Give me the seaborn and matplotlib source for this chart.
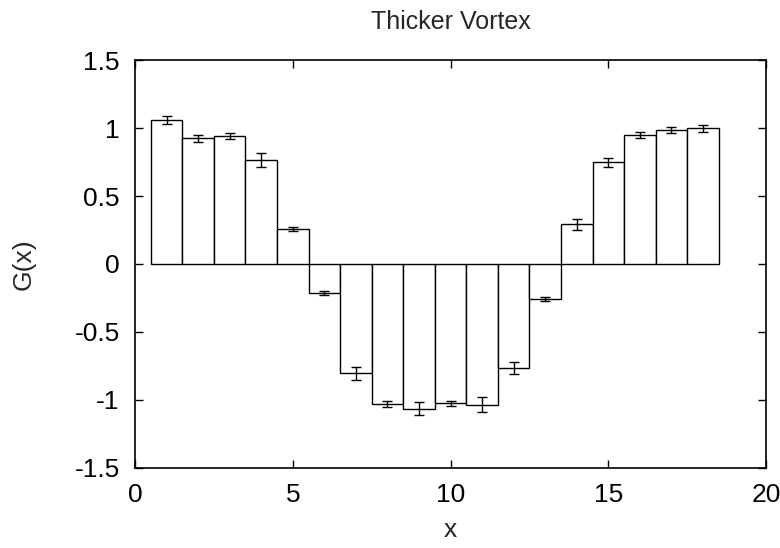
import matplotlib
matplotlib.use("Agg")
import matplotlib.pyplot as plt
import numpy as np
import pandas as pd
import seaborn as sns

# bin centres, correlator values and their errors
x_pos = [1, 2, 3, 4, 5, 6, 7, 8, 9, 10, 11, 12, 13, 14, 15, 16, 17, 18]
g_vals = [1.057, 0.924, 0.941, 0.765, 0.255, -0.215, -0.804, -1.029, -1.064,
          -1.025, -1.035, -0.767, -0.255, 0.292, 0.748, 0.949, 0.985, 0.998]
g_errs = [0.030, 0.027, 0.025, 0.050, 0.015, 0.015, 0.050, 0.020, 0.050,
          0.020, 0.055, 0.045, 0.015, 0.040, 0.035, 0.025, 0.025, 0.025]

df = pd.DataFrame({"x": x_pos, "G": g_vals, "err": g_errs})

sns.set_theme(style="ticks")
plt.rcParams["font.family"] = ["Liberation Sans", "DejaVu Sans"]

fig = plt.figure(figsize=(7.8, 5.48), dpi=100)
ax = fig.add_axes([0.1731, 0.146, 0.9821 - 0.1731, 0.8905 - 0.146])

sns.barplot(data=df, x="x", y="G", native_scale=True, width=1.0,
            color="white", edgecolor="black", linewidth=1.0,
            errorbar=None, ax=ax)
ax.errorbar(df["x"], df["G"], yerr=df["err"], fmt="none",
            ecolor="black", elinewidth=1.0, capsize=3.5, capthick=1.0)

ax.set_xlim(0, 20)
ax.set_ylim(-1.5, 1.5)
ax.set_xticks([0, 5, 10, 15, 20])
ax.set_xticklabels(["0", "5", "10", "15", "20"])
ax.set_yticks([-1.5, -1, -0.5, 0, 0.5, 1, 1.5])
ax.set_yticklabels(["-1.5", "-1", "-0.5", "0", "0.5", "1", "1.5"])

ax.tick_params(direction="in", length=5.5, width=1.0, top=True, right=True,
               labelsize=19, colors="black")
ax.tick_params(axis="x", pad=11)
ax.tick_params(axis="y", pad=11)
for sp in ax.spines.values():
    sp.set_visible(True)
    sp.set_linewidth(1.2)
    sp.set_color("black")

ax.set_xlabel("x", fontsize=19, labelpad=8)
ax.set_ylabel("G(x)", fontsize=19, labelpad=28)
ax.set_title("Thicker Vortex", fontsize=18, pad=22)

fig.savefig("out.png", dpi=100)
